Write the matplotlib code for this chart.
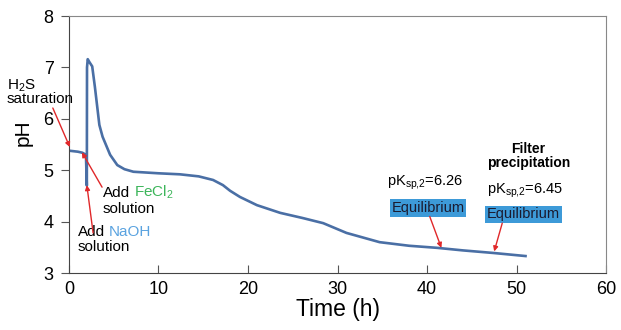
import matplotlib
matplotlib.use("Agg")
import matplotlib.pyplot as plt
from matplotlib.offsetbox import TextArea, HPacker, VPacker, AnnotationBbox

plt.rcParams['font.family'] = ['Liberation Sans', 'DejaVu Sans']
plt.rcParams['mathtext.fontset'] = 'custom'
plt.rcParams['mathtext.rm'] = 'Liberation Sans'
plt.rcParams['mathtext.it'] = 'Liberation Sans:italic'

# data
time_h = [0.0, 0.5, 1.0, 1.5, 1.9, 2.0, 2.02, 2.1, 2.3, 2.6, 2.9, 3.4, 3.76, 4.6,
          5.4, 6.2, 7.2, 10.0, 12.4, 14.5, 16.1, 17.2, 18.0, 19.1, 21.0, 23.6,
          26.1, 28.4, 31.0, 34.7, 38.0, 41.1, 44.0, 47.4, 51.0]
ph = [5.38, 5.37, 5.36, 5.34, 5.30, 4.70, 7.00, 7.16, 7.10, 7.02, 6.62, 5.88, 5.65, 5.30,
      5.10, 5.02, 4.97, 4.94, 4.92, 4.88, 4.81, 4.71, 4.60, 4.48, 4.32, 4.17,
      4.07, 3.97, 3.78, 3.60, 3.53, 3.49, 3.44, 3.39, 3.33]

x_ticks = [0, 10, 20, 30, 40, 50, 60]
y_ticks = [3, 4, 5, 6, 7, 8]

fig = plt.figure(figsize=(6.21, 3.30), dpi=100)
ax = fig.add_axes([0.111, 0.1727, 0.865, 0.7788])
ax.plot(time_h, ph, color='#4a6fa5', lw=1.9, solid_joinstyle='round')
ax.set_xlim(0, 60)
ax.set_ylim(3, 8)
ax.set_xticks(x_ticks)
ax.set_yticks(y_ticks)
ax.tick_params(axis='x', direction='in', length=6, labelsize=13, pad=6, color='#555555')
ax.tick_params(axis='y', direction='out', length=6, labelsize=13, pad=5, color='#555555')
for s in ['left', 'bottom']:
    ax.spines[s].set_color('#444444')
for s in ['top', 'right']:
    ax.spines[s].set_color('#888888')
ax.set_xlabel('Time (h)', fontsize=16.5, labelpad=0)
ax.set_ylabel('pH', fontsize=15)
ax.yaxis.set_label_coords(-0.068, 0.545)

red = '#e0282a'
aprops = dict(arrowstyle='-|>', color=red, lw=1.0, mutation_scale=7, shrinkA=0, shrinkB=0)
fs = 11

# H2S saturation
ax.text(-6.93, 6.80, 'H$_2$S\nsaturation', fontsize=fs, ha='left', va='top',
        linespacing=0.85, clip_on=False)
ax.annotate('', xy=(0.1, 5.45), xytext=(-1.8, 6.21), arrowprops=aprops, annotation_clip=False)


def two_line(word, color, xy):
    first = HPacker(children=[TextArea('Add', textprops=dict(fontsize=fs)),
                              TextArea(word, textprops=dict(fontsize=fs, color=color))],
                    align='baseline', pad=0, sep=3)
    second = TextArea('solution', textprops=dict(fontsize=fs))
    pack = VPacker(children=[first, second], align='left', pad=0, sep=0.5)
    ab = AnnotationBbox(pack, xy, xycoords='data', box_alignment=(0, 1),
                        frameon=False, pad=0)
    ax.add_artist(ab)


# Add FeCl2
two_line('FeCl$_2$', '#3cb55a', (3.8, 4.73))
ax.annotate('', xy=(1.45, 5.35), xytext=(3.7, 4.67), arrowprops=aprops)

# Add NaOH
two_line('NaOH', '#5aa3e0', (1.0, 3.93))
ax.annotate('', xy=(2.0, 4.71), xytext=(2.7, 3.78), arrowprops=aprops)

# Filter precipitation
ax.text(51.3, 5.55, 'Filter\nprecipitation', fontsize=10, fontweight='bold',
        ha='center', va='top', linespacing=1.05)

box = dict(boxstyle='square,pad=0.12', fc='#3d9ad8', ec='none')
ax.text(35.5, 4.75, 'pK$_{\\mathrm{sp{,}2}}$=6.26', fontsize=10.5, ha='left', va='center')
ax.text(40.1, 4.26, 'Equilibrium', fontsize=10.5, ha='center', va='center', bbox=box,
        color='#1a1a2e')
ax.annotate('', xy=(41.6, 3.49), xytext=(40.3, 4.10), arrowprops=aprops)

ax.text(46.7, 4.60, 'pK$_{\\mathrm{sp{,}2}}$=6.45', fontsize=10.5, ha='left', va='center')
ax.text(50.8, 4.14, 'Equilibrium', fontsize=10.5, ha='center', va='center', bbox=box,
        color='#1a1a2e')
ax.annotate('', xy=(47.5, 3.42), xytext=(48.4, 3.97), arrowprops=aprops)

fig.savefig('out.png', dpi=100)
